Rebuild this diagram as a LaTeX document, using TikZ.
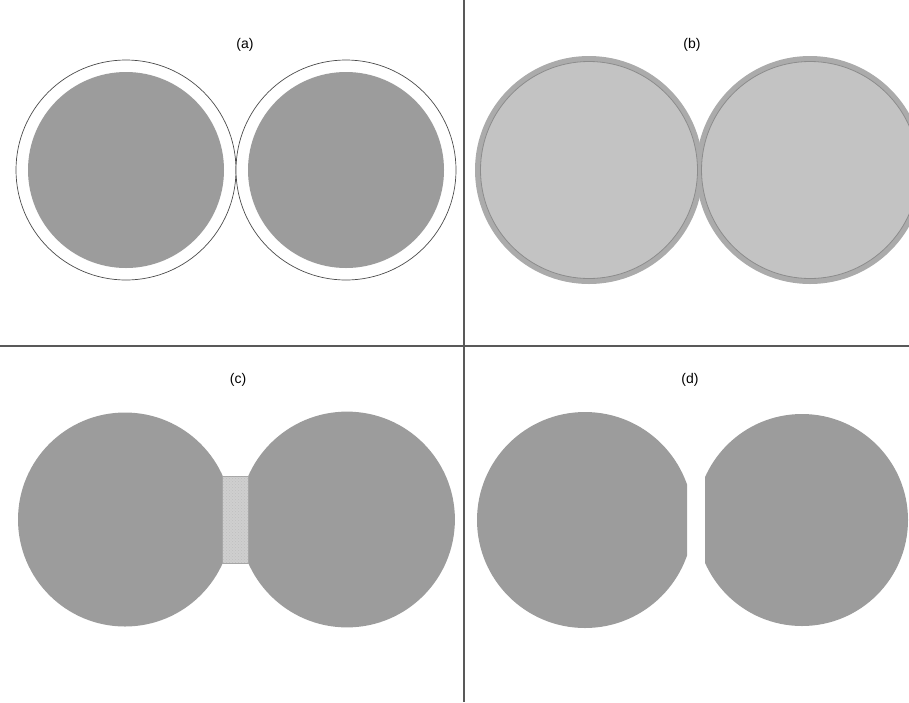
\documentclass[tikz,border=0pt]{standalone}
\usepackage{fontspec}
\setmainfont{Liberation Sans}
\usetikzlibrary{patterns}
\definecolor{discgray}{HTML}{9C9C9C}
\definecolor{ringgray}{HTML}{ABABAB}
\definecolor{palegray}{HTML}{C3C3C3}
\definecolor{rimline}{HTML}{8C8C8C}
\definecolor{neckgray}{HTML}{CFCFCF}

\begin{document}
\begin{tikzpicture}[x=1pt,y=-1pt,
  panellabel/.style={font=\fontsize{14}{16}\selectfont,inner sep=1pt},
  shell/.style={draw=black!70,line width=.7pt,fill=white},
  rim/.style={draw=rimline,line width=.8pt}]
\path[use as bounding box] (0,0) rectangle (909,702);
\draw[black!65,line width=1.1pt] (464,0)--(464,702) (0,346)--(909,346);

% (a) coated spheres
\draw[shell] (126,170) circle[radius=110];
\draw[shell] (346,170) circle[radius=110];
\fill[discgray] (126,170) circle[radius=98];
\fill[discgray] (346,170) circle[radius=98];
\node[panellabel] (labA) at (245,45) {(a)};

% (b) shells touching
\fill[ringgray] (589,170) circle[radius=114];
\fill[ringgray] (810,170) circle[radius=114];
\fill[palegray] (589,170) circle[radius=108.5];
\fill[palegray] (810,170) circle[radius=108.5];
\draw[rim] (589,170) circle[radius=108.5];
\draw[rim] (810,170) circle[radius=108.5];
\node[panellabel] (labB) at (692,45) {(b)};

% (c) neck
\begin{scope}
\clip (0,346) rectangle (222.7,702);
\fill[discgray] (125,519.5) circle[radius=107];
\end{scope}
\begin{scope}
\clip (248.3,346) rectangle (464,702);
\fill[discgray] (347,519.5) circle[radius=107.9];
\end{scope}
\draw[draw=black!35,line width=.5pt,fill=neckgray] (222.7,476) rectangle (248.3,563);
\fill[pattern=crosshatch dots,pattern color=black!25] (223,476.5) rectangle (248,562.5);
\node[panellabel] (labC) at (238,380) {(c)};

% (d) broken neck
\begin{scope}
\clip (464,346) rectangle (687,702);
\fill[discgray] (585,520) circle[radius=108];
\end{scope}
\begin{scope}
\clip (705,346) rectangle (909,702);
\fill[discgray] (802,520) circle[radius=106];
\end{scope}
\node[panellabel] (labD) at (690,380) {(d)};
\end{tikzpicture}
\end{document}
